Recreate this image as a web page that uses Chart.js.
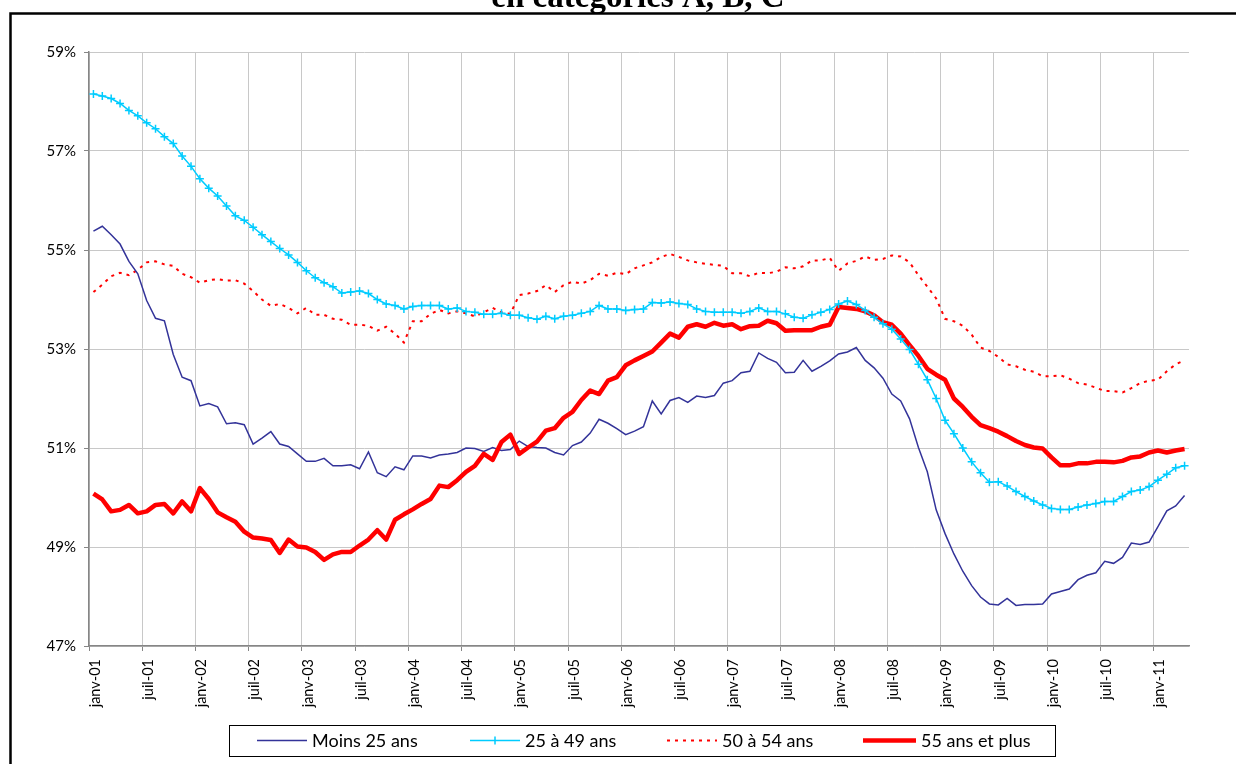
<!DOCTYPE html>
<html lang="fr">
<head>
<meta charset="utf-8">
<script src="https://cdn.jsdelivr.net/npm/chart.js@4.4.0/dist/chart.umd.min.js"></script>
<style>
  html, body { margin: 0; padding: 0; background: #fff; }
</style>
</head>
<body>
<canvas id="graphique" width="1236" height="764"></canvas>
<script>
// mois de janv-01 à avr-11
const moisCourts = ['janv', 'févr', 'mars', 'avr', 'mai', 'juin', 'juil', 'août', 'sept', 'oct', 'nov', 'déc'];
const mois = [];
for (let a = 1; a <= 11; a++) {
    moisCourts.forEach(m => mois.push(m + '-' + String(a).padStart(2, '0')));
}
mois.length = 124;

const etiquettesX = ['janv-01', 'juil-01', 'janv-02', 'juil-02', 'janv-03', 'juil-03', 'janv-04', 'juil-04',
    'janv-05', 'juil-05', 'janv-06', 'juil-06', 'janv-07', 'juil-07', 'janv-08', 'juil-08', 'janv-09',
    'juil-09', 'janv-10', 'juil-10', 'janv-11'];

const moins25 = [
    55.38, 55.48, 55.31, 55.12, 54.77, 54.52, 53.98, 53.62, 53.57, 52.89, 52.43, 52.36, 51.85, 51.90, 51.83, 51.49, 51.51, 51.47, 51.08, 51.20, 51.33,
    51.08, 51.03, 50.88, 50.73, 50.73, 50.79, 50.64, 50.64, 50.66, 50.58, 50.92, 50.50, 50.42, 50.62, 50.56, 50.84, 50.84, 50.80, 50.86, 50.88, 50.91,
    51.00, 50.99, 50.93, 51.01, 50.95, 50.97, 51.14, 51.03, 51.01, 51.00, 50.91, 50.86, 51.05, 51.12, 51.30, 51.58, 51.50, 51.39, 51.27, 51.34, 51.43,
    51.95, 51.69, 51.96, 52.02, 51.92, 52.05, 52.02, 52.06, 52.31, 52.36, 52.52, 52.55, 52.92, 52.81, 52.73, 52.52, 52.53, 52.77, 52.55, 52.65, 52.76,
    52.90, 52.94, 53.03, 52.77, 52.62, 52.41, 52.09, 51.95, 51.59, 51.01, 50.52, 49.75, 49.27, 48.86, 48.51, 48.22, 47.99, 47.85, 47.83, 47.96,
    47.82, 47.84, 47.84, 47.85, 48.05, 48.10, 48.15, 48.34, 48.43, 48.48, 48.71, 48.67, 48.79, 49.08, 49.05, 49.10, 49.41, 49.73, 49.83, 50.04
];
const de25a49 = [
    58.15, 58.11, 58.06, 57.96, 57.82, 57.71, 57.57, 57.45, 57.29, 57.15, 56.90, 56.69, 56.44, 56.25, 56.09, 55.89, 55.69, 55.60, 55.46, 55.31, 55.17,
    55.03, 54.90, 54.75, 54.58, 54.44, 54.34, 54.26, 54.13, 54.15, 54.17, 54.12, 54.00, 53.91, 53.88, 53.81, 53.86, 53.88, 53.88, 53.88, 53.81, 53.83,
    53.76, 53.74, 53.70, 53.70, 53.72, 53.68, 53.68, 53.63, 53.60, 53.66, 53.61, 53.66, 53.68, 53.72, 53.76, 53.88, 53.81, 53.81, 53.78, 53.80, 53.81,
    53.94, 53.93, 53.95, 53.92, 53.90, 53.81, 53.76, 53.74, 53.74, 53.74, 53.72, 53.76, 53.83, 53.76, 53.76, 53.71, 53.64, 53.62, 53.69, 53.74, 53.80,
    53.91, 53.97, 53.90, 53.78, 53.64, 53.51, 53.40, 53.20, 52.99, 52.69, 52.38, 52.00, 51.56, 51.29, 51.00, 50.72, 50.50, 50.31, 50.32, 50.23,
    50.12, 50.02, 49.93, 49.85, 49.78, 49.76, 49.76, 49.81, 49.85, 49.88, 49.92, 49.92, 50.02, 50.12, 50.15, 50.22, 50.35, 50.47, 50.60, 50.64
];
const de50a54 = [
    54.15, 54.30, 54.47, 54.54, 54.49, 54.60, 54.75, 54.77, 54.71, 54.68, 54.52, 54.45, 54.34, 54.39, 54.41, 54.38, 54.39, 54.32, 54.17, 54.00, 53.87,
    53.91, 53.83, 53.72, 53.83, 53.69, 53.69, 53.61, 53.59, 53.49, 53.49, 53.47, 53.37, 53.45, 53.31, 53.13, 53.56, 53.56, 53.71, 53.79, 53.72, 53.76,
    53.72, 53.66, 53.74, 53.83, 53.74, 53.71, 54.09, 54.12, 54.17, 54.29, 54.15, 54.29, 54.36, 54.32, 54.39, 54.52, 54.48, 54.54, 54.51, 54.63, 54.69,
    54.75, 54.86, 54.92, 54.86, 54.79, 54.75, 54.72, 54.70, 54.68, 54.53, 54.53, 54.47, 54.54, 54.53, 54.56, 54.65, 54.63, 54.67, 54.79, 54.79, 54.84,
    54.58, 54.73, 54.78, 54.87, 54.80, 54.82, 54.89, 54.87, 54.75, 54.49, 54.26, 54.02, 53.61, 53.56, 53.47, 53.29, 53.03, 52.96, 52.84, 52.69,
    52.65, 52.58, 52.54, 52.45, 52.45, 52.47, 52.40, 52.31, 52.28, 52.22, 52.15, 52.15, 52.12, 52.21, 52.31, 52.36, 52.38, 52.55, 52.69, 52.77
];
const plus55 = [
    50.08, 49.96, 49.72, 49.75, 49.85, 49.68, 49.72, 49.85, 49.87, 49.68, 49.92, 49.72, 50.19, 49.97, 49.70, 49.60, 49.51, 49.31, 49.19, 49.17, 49.14,
    48.88, 49.15, 49.01, 48.99, 48.90, 48.74, 48.85, 48.90, 48.90, 49.03, 49.15, 49.34, 49.15, 49.55, 49.66, 49.76, 49.87, 49.97, 50.24, 50.21, 50.35,
    50.52, 50.64, 50.88, 50.76, 51.12, 51.27, 50.88, 51.01, 51.13, 51.35, 51.40, 51.61, 51.73, 51.97, 52.16, 52.09, 52.36, 52.43, 52.67, 52.77, 52.86,
    52.95, 53.13, 53.31, 53.23, 53.45, 53.50, 53.45, 53.53, 53.47, 53.50, 53.40, 53.46, 53.47, 53.57, 53.52, 53.37, 53.38, 53.38, 53.38, 53.45, 53.49,
    53.85, 53.83, 53.81, 53.76, 53.68, 53.54, 53.49, 53.31, 53.08, 52.86, 52.60, 52.48, 52.38, 52.00, 51.83, 51.63, 51.46, 51.40, 51.33, 51.24,
    51.14, 51.06, 51.01, 50.99, 50.81, 50.65, 50.65, 50.69, 50.69, 50.72, 50.72, 50.71, 50.74, 50.81, 50.83, 50.91, 50.95, 50.91, 50.95, 50.98
];

const titre = 'en catégories A, B, C';

// points {x: rang du mois, y: valeur}
const pts = serie => serie.map((v, i) => ({ x: i, y: v }));

Chart.defaults.font.family = 'Lato';
Chart.defaults.color = '#000';

// cadre, titre et légende encadrée façon Excel
const habillage = {
    id: 'habillage',
    afterDraw(chart) {
        const ctx = chart.ctx;
        ctx.save();
        ctx.strokeStyle = '#000';
        ctx.lineWidth = 2.5;
        ctx.beginPath();
        ctx.moveTo(10.5, 800);
        ctx.lineTo(10.5, 13.5);
        ctx.lineTo(1300, 13.5);
        ctx.stroke();

        ctx.fillStyle = '#000';
        ctx.font = 'bold 33px "Liberation Serif"';
        ctx.textAlign = 'center';
        ctx.textBaseline = 'alphabetic';
        ctx.fillText(titre, 638, 7);

        ctx.lineWidth = 1;
        ctx.strokeRect(229.5, 725.5, 826, 31);
        const debuts = [257, 470, 667, 863];
        const longueurs = [50, 50, 50, 53];
        chart.data.datasets.forEach((ds, i) => {
            const x0 = debuts[i], x1 = x0 + longueurs[i], y = 740.5;
            ctx.save();
            ctx.strokeStyle = ds.borderColor;
            ctx.lineWidth = ds.borderWidth;
            ctx.setLineDash(ds.borderDash || []);
            ctx.beginPath();
            ctx.moveTo(x0, y);
            ctx.lineTo(x1, y);
            ctx.stroke();
            if (ds.pointStyle === 'cross') {
                const c = (x0 + x1) / 2;
                ctx.beginPath();
                ctx.moveTo(c, y - ds.pointRadius);
                ctx.lineTo(c, y + ds.pointRadius);
                ctx.stroke();
            }
            ctx.restore();
            ctx.fillStyle = '#000';
            ctx.font = '18px Lato';
            ctx.textAlign = 'left';
            ctx.textBaseline = 'middle';
            ctx.fillText(ds.label, x1 + 5, 741);
        });
        ctx.restore();
    }
};

const ctx = document.getElementById('graphique');
const graphique = new Chart(ctx, {
    type: 'line',
    data: {
        datasets: [{
            label: 'Moins 25 ans',
            data: pts(moins25),
            borderColor: '#333399',
            borderWidth: 1.5,
            pointRadius: 0,
            order: 2
        }, {
            label: '25 à 49 ans',
            data: pts(de25a49),
            borderColor: '#00ccff',
            borderWidth: 1.5,
            pointStyle: 'cross',
            pointRadius: 4,
            pointBorderWidth: 1.5,
            pointBorderColor: '#00ccff',
            order: 0
        }, {
            label: '50 à 54 ans',
            data: pts(de50a54),
            borderColor: '#ff0000',
            borderWidth: 2,
            borderDash: [3, 5],
            pointRadius: 0,
            order: 3
        }, {
            label: '55 ans et plus',
            data: pts(plus55),
            borderColor: '#ff0000',
            borderWidth: 4.5,
            borderJoinStyle: 'round',
            pointRadius: 0,
            order: 1
        }]
    },
    options: {
        responsive: false,
        animation: false,
        layout: { padding: { top: 52, right: 47, left: 0, bottom: 0 } },
        plugins: {
            legend: { display: false },
            tooltip: { enabled: false }
        },
        scales: {
            x: {
                type: 'linear',
                min: -0.5,
                max: mois.length - 0.5,
                afterBuildTicks: axis => {
                    axis.ticks = etiquettesX.map(l => ({ value: mois.indexOf(l) - 0.5 }));
                },
                afterFit: axis => { axis.height = 118; },
                ticks: {
                    autoSkip: false,
                    minRotation: 90,
                    maxRotation: 90,
                    padding: 8,
                    labelOffset: 6,
                    font: { size: 14.5 },
                    callback: (v, i) => etiquettesX[i]
                },
                grid: { color: '#c8c8c8', tickColor: '#868686', tickLength: 5 },
                border: { color: '#868686', width: 1.5 }
            },
            y: {
                min: 47,
                max: 59,
                afterFit: axis => { axis.width = 89; },
                ticks: {
                    stepSize: 2,
                    padding: 8,
                    font: { size: 15 },
                    callback: v => v + '%'
                },
                grid: { color: '#c8c8c8', tickColor: '#868686', tickLength: 5 },
                border: { color: '#868686', width: 1.5 }
            }
        }
    },
    plugins: [habillage]
});
</script>
</body>
</html>
